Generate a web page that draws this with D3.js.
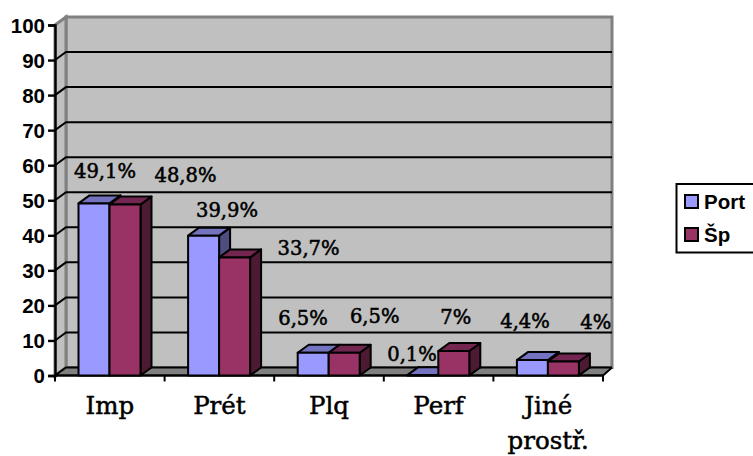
<!DOCTYPE html>
<html>
<head>
<meta charset="utf-8">
<script src="https://cdnjs.cloudflare.com/ajax/libs/d3/7.8.5/d3.min.js"></script>
<style>
html,body{margin:0;padding:0;background:#fff;overflow:hidden}
svg{display:block}
.num{font-family:"Liberation Sans",sans-serif;font-weight:700;font-size:20.5px;fill:#000}
.cat{font-family:"DejaVu Serif",serif;font-size:24.5px;fill:#000;stroke:#000;stroke-width:.5px}
.val{font-family:"DejaVu Serif",serif;font-size:19.5px;fill:#000;stroke:#000;stroke-width:.55px}
</style>
</head>
<body>
<svg id="chart" width="753" height="456"></svg>
<script>
const categories = [["Imp"], ["Prét"], ["Plq"], ["Perf"], ["Jiné", "prostř."]];
const seriesNames = ["Port", "Šp"];
const portValues = [49.1, 39.9, 6.5, 0.1, 4.4];
const spValues = [48.8, 33.7, 6.5, 7, 4];
const yTicks = [0, 10, 20, 30, 40, 50, 60, 70, 80, 90, 100];

const svg = d3.select("#chart");
const depthX = 11, depthY = 8;
const front = {x0: 55, x1: 603, y0: 375.5, y1: 25};

const y = d3.scaleLinear().domain([0, 100]).range([front.y0, front.y1]);
const x = d3.scaleBand().domain(d3.range(categories.length)).range([front.x0, front.x1]);
const s = d3.scaleBand().domain([0, 1]).range([0, 62]);

const poly = pts => pts.map(p => p.join(",")).join(" ");
const wallTop = y(100) - depthY, wallBottom = y(0) - depthY;
const backL = front.x0 + depthX, backR = front.x1 + depthX - 2;

// back wall, side wall and floor of the 3D box
svg.append("polygon").attr("points", poly([[backL, wallTop], [backR, wallTop], [backR, wallBottom], [backL, wallBottom]]))
  .attr("fill", "#c0c0c0").attr("stroke", "#808080").attr("stroke-width", 3);
svg.append("polygon").attr("points", poly([[front.x0, y(100)], [backL, wallTop], [backL, wallBottom], [front.x0, y(0)]]))
  .attr("fill", "#c0c0c0").attr("stroke", "#808080").attr("stroke-width", 3);
svg.append("polygon").attr("points", poly([[front.x0, y(0)], [backL, wallBottom], [backR, wallBottom], [front.x1, y(0)]]))
  .attr("fill", "#808080");

// gridlines run along the side wall, then across the back wall
const grid = yTicks.filter(t => t < 100);
svg.append("g").selectAll("polyline").data(grid).join("polyline")
  .attr("points", t => poly([[front.x0, y(t)], [backL, y(t) - depthY], [backR, y(t) - depthY]]))
  .attr("fill", "none").attr("stroke", "#000").attr("stroke-width", 2);

// axes
const yAxis = svg.append("g").attr("transform", `translate(${front.x0},0)`)
  .call(d3.axisLeft(y).tickValues(yTicks).tickSize(7).tickPadding(3));
yAxis.select(".domain").attr("stroke", "#000").attr("stroke-width", 2.4);
yAxis.selectAll(".tick line").attr("stroke", "#000").attr("stroke-width", 2.4);
yAxis.selectAll(".tick text").attr("class", "num").attr("font-family", null).attr("font-size", null).attr("dy", "0.36em");

const xTickPositions = d3.range(categories.length + 1).map(i => front.x0 + i * x.step());
svg.append("line").attr("x1", front.x0).attr("x2", front.x1).attr("y1", y(0)).attr("y2", y(0))
  .attr("stroke", "#000").attr("stroke-width", 2.4);
svg.append("line").attr("x1", front.x1).attr("x2", front.x1 + depthX - 2).attr("y1", y(0)).attr("y2", y(0) - depthY)
  .attr("stroke", "#000").attr("stroke-width", 2);
svg.append("g").selectAll("line").data(xTickPositions).join("line")
  .attr("x1", d => d).attr("x2", d => d).attr("y1", y(0)).attr("y2", y(0) + 6)
  .attr("stroke", "#000").attr("stroke-width", 2);

// bars, drawn with a front face, a top face and a side face
const palette = [
  {front: "#9999ff", top: "#7373bf", side: "#4d4d80"},
  {front: "#993366", top: "#732650", side: "#4d1a33"}
];
const barData = [];
categories.forEach((c, i) => {
  [portValues, spValues].forEach((vals, k) => barData.push({i, k, v: vals[i]}));
});
const barLeft = d => x(d.i) + 23.5 + s(d.k);
const bars = svg.append("g").selectAll("g").data(barData).join("g")
  .attr("stroke", "#000").attr("stroke-width", 2).attr("stroke-linejoin", "round");
bars.append("polygon").attr("points", d => {
    const l = barLeft(d) + s.bandwidth(), t = y(d.v);
    return poly([[l, t], [l + depthX, t - depthY], [l + depthX, y(0) - depthY], [l, y(0)]]);
  }).attr("fill", d => palette[d.k].side);
bars.append("polygon").attr("points", d => {
    const l = barLeft(d), r = l + s.bandwidth(), t = y(d.v);
    return poly([[l, t], [l + depthX, t - depthY], [r + depthX, t - depthY], [r, t]]);
  }).attr("fill", d => palette[d.k].top);
bars.append("rect")
  .attr("x", barLeft).attr("y", d => y(d.v))
  .attr("width", s.bandwidth()).attr("height", d => y(0) - y(d.v))
  .attr("fill", d => palette[d.k].front);

// value labels were placed by hand around the bars, so each carries its own nudge
const labelNudge = [
  [[11, -32], [60.5, -29.5]],
  [[23.4, -25], [74, -9.5]],
  [[-10.2, -35], [30.5, -37]],
  [[-10.8, -21], [2, -34]],
  [[-7.4, -39], [32.3, -39.5]]
];
svg.append("g").selectAll("text").data(barData).join("text")
  .attr("class", "val").attr("text-anchor", "middle")
  .attr("x", d => barLeft(d) + s.bandwidth() / 2 + labelNudge[d.i][d.k][0])
  .attr("y", d => y(d.v) + labelNudge[d.i][d.k][1])
  .attr("dy", "0.35em")
  .text(d => String(d.v).replace(".", ",") + "%");

// category labels below the axis
const catText = svg.append("g").selectAll("text").data(categories).join("text")
  .attr("class", "cat").attr("text-anchor", "middle")
  .attr("x", (d, i) => x(i) + x.bandwidth() / 2);
catText.selectAll("tspan").data(d => d).join("tspan")
  .attr("x", function () { return d3.select(this.parentNode).attr("x"); })
  .attr("y", (d, j) => 414 + j * 34.5)
  .text(d => d);

// legend, cut off by the right edge
const legend = svg.append("g");
legend.append("rect").attr("x", 676.5).attr("y", 184).attr("width", 90).attr("height", 68.5)
  .attr("fill", "#fff").attr("stroke", "#000").attr("stroke-width", 2);
const legendRow = d3.scalePoint().domain(seriesNames).range([202, 235]);
legend.selectAll("rect.key").data(seriesNames).join("rect").attr("class", "key")
  .attr("x", 685).attr("y", d => legendRow(d) - 7).attr("width", 13).attr("height", 13)
  .attr("fill", (d, i) => palette[i].front).attr("stroke", "#000").attr("stroke-width", 2);
legend.selectAll("text").data(seriesNames).join("text").attr("class", "num")
  .attr("x", 704).attr("y", d => legendRow(d)).attr("dy", "0.36em")
  .text(d => d);
</script>
</body>
</html>
